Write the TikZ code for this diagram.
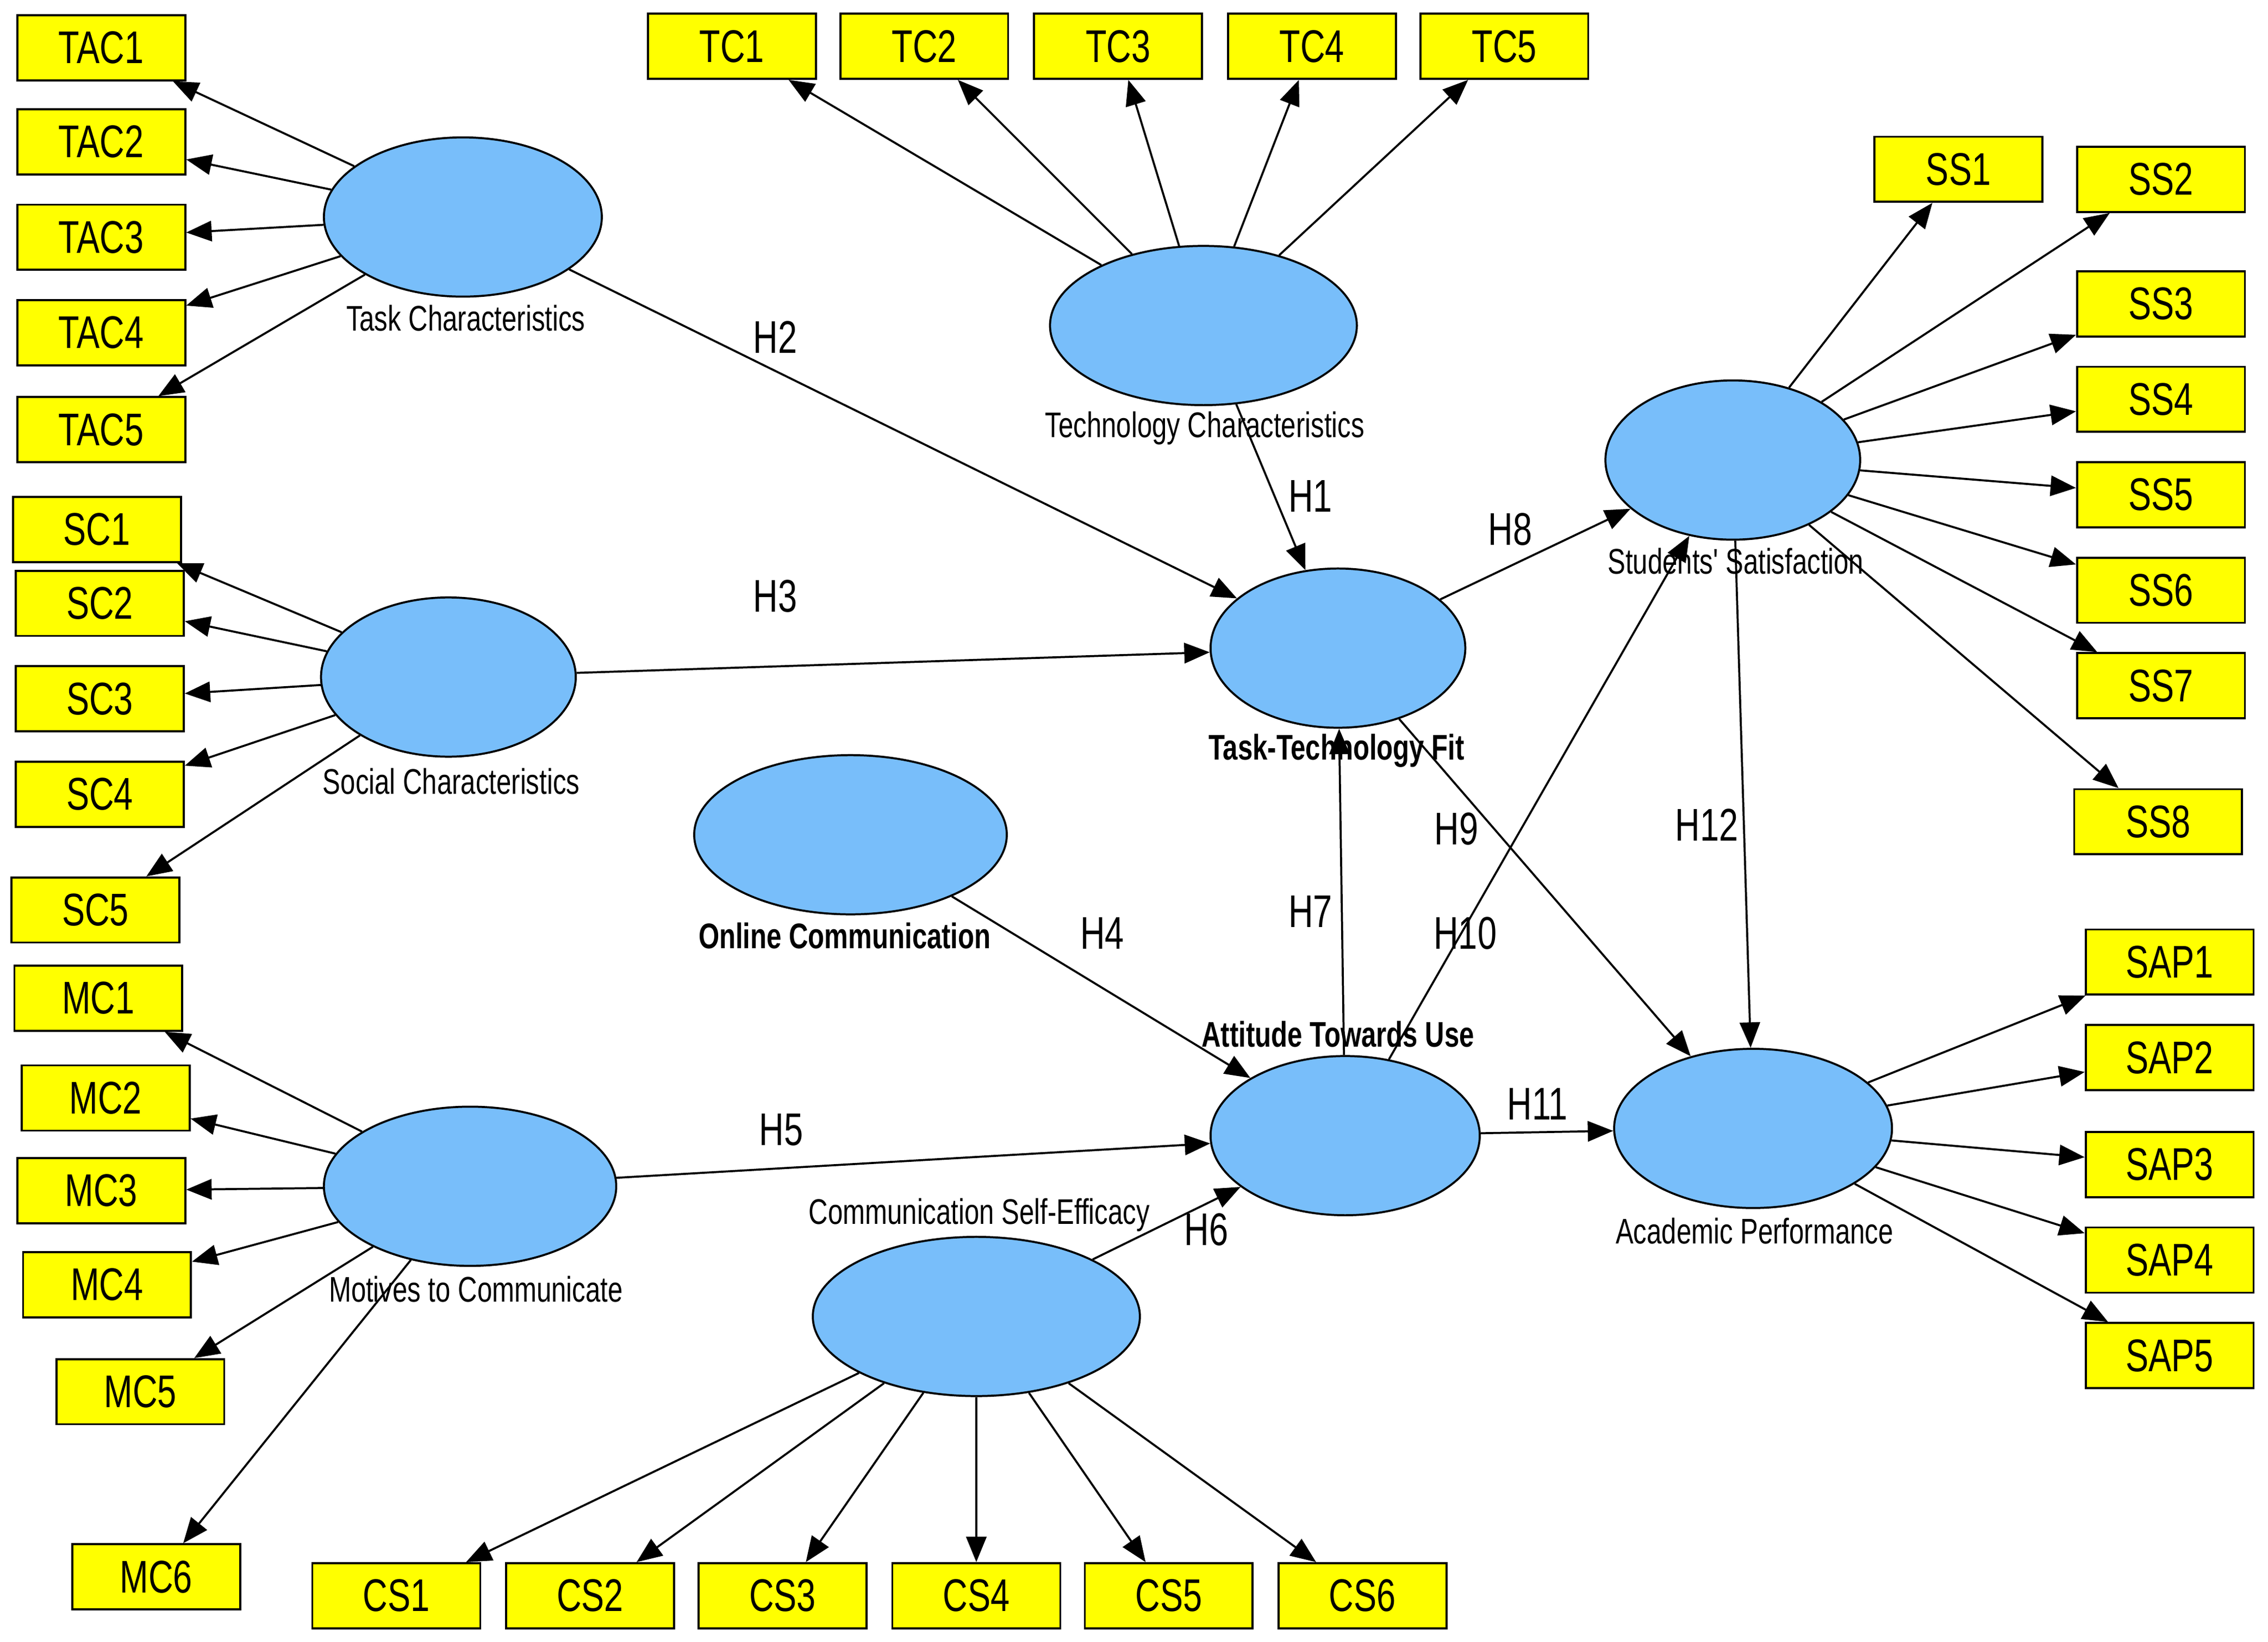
\documentclass[tikz,border=0pt]{standalone}
\usepackage{fontspec}
\setmainfont{Liberation Sans}
\newfontfamily\narrowsf[FakeStretch=0.75]{Liberation Sans}
\usetikzlibrary{shapes.geometric,arrows.meta}
\definecolor{latent}{RGB}{120,190,250}
\definecolor{item}{RGB}{255,255,0}
\tikzset{
  box/.style={draw,fill=item,minimum width=1.16cm,minimum height=0.45cm,inner sep=0pt,font=\narrowsf\small},
  lv/.style={draw,fill=latent,ellipse,inner sep=0pt},
  lab/.style={font=\narrowsf\fontsize{7}{8}\selectfont,inner sep=0pt},
  blab/.style={font=\narrowsf\bfseries\fontsize{7}{8}\selectfont,inner sep=0pt},
  hl/.style={font=\narrowsf\small,inner sep=0pt},
  ind/.style={-{Triangle[length=5pt,width=4pt]},thin},
}
\begin{document}
\begin{tikzpicture}[x=0.01cm,y=-0.01cm]
  \useasboundingbox (0,0) rectangle (1568,1135);
  % latent variables
  \node[lv,minimum width=1.92cm,minimum height=1.1cm] (tac) at (320,150) {};
  \node[lv,minimum width=2.12cm,minimum height=1.1cm] (tc) at (832,225) {};
  \node[lv,minimum width=1.76cm,minimum height=1.1cm] (ss) at (1198,318) {};
  \node[lv,minimum width=1.76cm,minimum height=1.1cm] (sc) at (310,468) {};
  \node[lv,minimum width=1.76cm,minimum height=1.1cm] (ttf) at (925,448) {};
  \node[lv,minimum width=2.16cm,minimum height=1.1cm] (oc) at (588,577) {};
  \node[lv,minimum width=1.86cm,minimum height=1.1cm] (atu) at (930,785) {};
  \node[lv,minimum width=1.92cm,minimum height=1.1cm] (ap) at (1212,780) {};
  \node[lv,minimum width=2.02cm,minimum height=1.1cm] (mc) at (325,820) {};
  \node[lv,minimum width=2.26cm,minimum height=1.1cm] (cs) at (675,910) {};
  % indicators
  \foreach \n/\y in {1/33,2/98,3/164,4/230,5/297}
    \node[box] (tac\n) at (70,\y) {TAC\n};
  \foreach \n/\x in {1/506,2/639,3/773,4/907,5/1040}
    \node[box] (tc\n) at (\x,32) {TC\n};
  \node[box] (ss1) at (1354,117) {SS1};
  \foreach \n/\y in {2/124,3/210,4/276,5/342,6/408,7/474}
    \node[box] (ss\n) at (1494,\y) {SS\n};
  \node[box] (ss8) at (1492,568) {SS8};
  \foreach \n/\x/\y in {1/67/366,2/69/417,3/69/483,4/69/549,5/66/629}
    \node[box] (sc\n) at (\x,\y) {SC\n};
  \foreach \n/\x/\y in {1/68/690,2/73/759,3/70/823,4/74/888,5/97/962,6/108/1090}
    \node[box] (mc\n) at (\x,\y) {MC\n};
  \foreach \n/\x in {1/274,2/408,3/541,4/675,5/808,6/942}
    \node[box] (cs\n) at (\x,1103) {CS\n};
  \foreach \n/\y in {1/665,2/731,3/805,4/871,5/937}
    \node[box] (sap\n) at (1500,\y) {SAP\n};
  % measurement arrows
  \foreach \n in {1,...,5} \draw[ind] (tac) -- (tac\n);
  \foreach \n in {1,...,5} \draw[ind] (tc) -- (tc\n);
  \foreach \n in {1,...,8} \draw[ind] (ss) -- (ss\n);
  \foreach \n in {1,...,5} \draw[ind] (sc) -- (sc\n);
  \foreach \n in {1,...,6} \draw[ind] (mc) -- (mc\n);
  \foreach \n in {1,...,6} \draw[ind] (cs) -- (cs\n);
  \foreach \n in {1,...,5} \draw[ind] (ap) -- (sap\n);
  % structural paths
  \draw[ind] (tac) -- (ttf);
  \draw[ind] (tc) -- (ttf);
  \draw[ind] (sc) -- (ttf);
  \draw[ind] (ttf) -- (ss);
  \draw[ind] (ttf) -- (ap);
  \draw[ind] (atu) -- (ttf);
  \draw[ind] (atu) -- (ss);
  \draw[ind] (ss) -- (ap);
  \draw[ind] (oc) -- (atu);
  \draw[ind] (mc) -- (atu);
  \draw[ind] (cs) -- (atu);
  \draw[ind] (atu) -- (ap);
  % latent labels
  \node[lab] (ltac) at (322,220) {Task Characteristics};
  \node[lab] (ltc) at (833,296) {Technology Characteristics};
  \node[lab] (lss) at (1200,388) {Students' Satisfaction};
  \node[lab] (lsc) at (312,540) {Social Characteristics};
  \node[blab] (lttf) at (924,519) {Task-Technology Fit};
  \node[blab] (loc) at (584,647) {Online Communication};
  \node[blab] (latu) at (925,715) {Attitude Towards Use};
  \node[lab] (lap) at (1213,851) {Academic Performance};
  \node[lab] (lmc) at (329,891) {Motives to Communicate};
  \node[lab] (lcs) at (677,840) {Communication Self-Efficacy};
  % hypotheses
  \node[hl] (h1) at (906,343) {H1};
  \node[hl] (h2) at (536,233) {H2};
  \node[hl] (h3) at (536,412) {H3};
  \node[hl] (h4) at (762,645) {H4};
  \node[hl] (h5) at (540,781) {H5};
  \node[hl] (h6) at (834,850) {H6};
  \node[hl] (h7) at (906,630) {H7};
  \node[hl] (h8) at (1044,366) {H8};
  \node[hl] (h9) at (1007,573) {H9};
  \node[hl] (h10) at (1013,645) {H10};
  \node[hl] (h11) at (1063,763) {H11};
  \node[hl] (h12) at (1180,570) {H12};
\end{tikzpicture}
\end{document}
